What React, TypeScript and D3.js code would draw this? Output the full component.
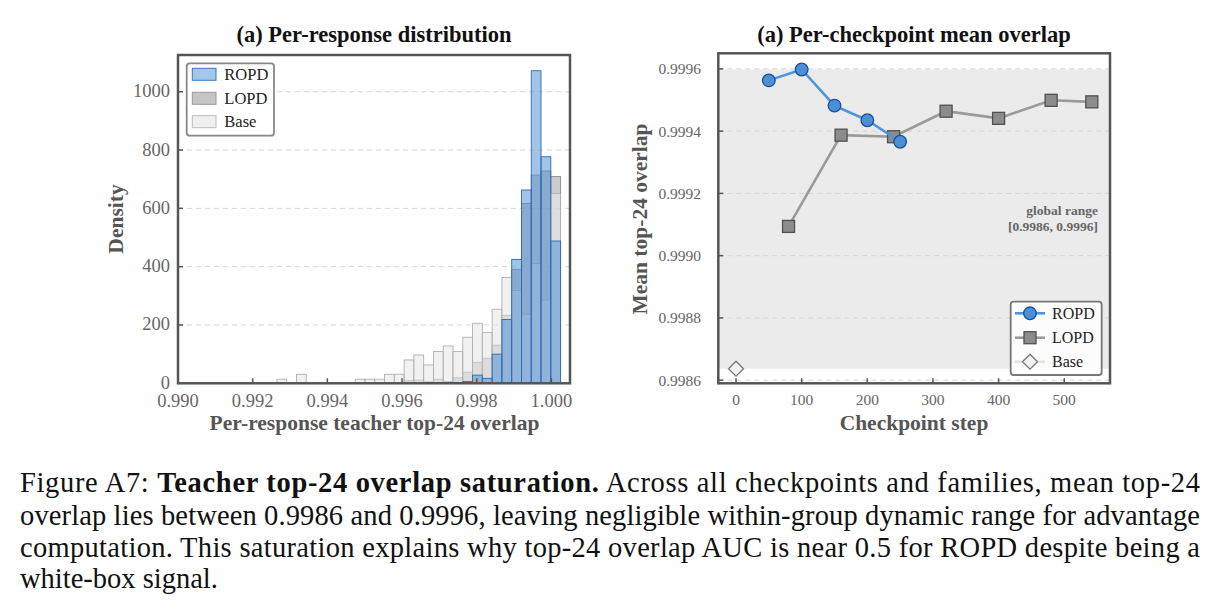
import React from "react";
import * as d3 from "d3";

// ---------- Histogram data (panel a, left) ----------
const binEdges = [
  0.99265, 0.992912, 0.993174, 0.993436, 0.993698, 0.99396, 0.994222, 0.994484,
  0.994746, 0.995008, 0.99527, 0.995532, 0.995794, 0.996056, 0.996318, 0.99658,
  0.996842, 0.997104, 0.997366, 0.997628, 0.99789, 0.998152, 0.998414, 0.998676,
  0.998938, 0.9992, 0.999462, 0.999724, 0.999986, 1.000248,
];
const ropdDensity = [0, 0, 0, 0, 0, 0, 0, 0, 0, 0, 0, 0, 0, 0, 0, 3, 2, 3, 3, 6, 28, 17, 100, 219, 425, 663, 1072, 777, 488];
const lopdDensity = [0, 0, 0, 0, 0, 0, 0, 0, 0, 0, 0, 0, 0, 9, 11, 5, 14, 6, 19, 38, 72, 86, 131, 233, 391, 617, 714, 728, 709];
const baseDensity = [14, 0, 31, 0, 0, 0, 0, 0, 14, 14, 14, 31, 31, 80, 97, 63, 109, 128, 109, 158, 206, 174, 254, 363, 318, 237, 411, 286, 651];
const histXTicks = [0.99, 0.992, 0.994, 0.996, 0.998, 1.0];
const histYTicks = [0, 200, 400, 600, 800, 1000];

// ---------- Checkpoint data (right) ----------
const ropdSteps = [50, 100, 150, 200, 250];
const ropdMean = [0.999563, 0.999598, 0.999482, 0.999435, 0.999366];
const lopdSteps = [80, 160, 240, 320, 400, 480, 542];
const lopdMean = [0.999094, 0.999387, 0.999382, 0.999464, 0.999441, 0.999499, 0.999494];
const baseSteps = [0];
const baseMean = [0.998637];
const ckptXTicks = [0, 100, 200, 300, 400, 500];
const ckptYTicks = [0.9986, 0.9988, 0.999, 0.9992, 0.9994, 0.9996];

const SERIF = "'Liberation Serif', 'Times New Roman', serif";
const FRAME = "#555";
const TICKTXT = "#666";
const LABEL = "#555";

function Histogram() {
  const x = d3.scaleLinear().domain([0.99, 1.0005]).range([178, 570]);
  const y = d3.scaleLinear().domain([0, 1126]).range([383.3, 55]);
  const [x0, x1] = x.range();
  const [y0, y1] = y.range();
  const layers = [
    { name: "LOPD", vals: lopdDensity, fill: "#a8a8a8", op: 0.6, stroke: "#8a8a8a" },
    { name: "Base", vals: baseDensity, fill: "#e8e8e8", op: 0.6, stroke: "#b0b0b0" },
    { name: "ROPD", vals: ropdDensity, fill: "#4a8fd6", op: 0.52, stroke: "#2f69b0" },
  ];
  const legend = [
    { name: "ROPD", fill: "#a3c6eb", stroke: "#3b78c0" },
    { name: "LOPD", fill: "#c5c5c5", stroke: "#999" },
    { name: "Base", fill: "#efefef", stroke: "#bbb" },
  ];
  return (
    <g>
      <text x={374} y={41.5} textAnchor="middle" fontFamily={SERIF} fontWeight="bold" fontSize={22.5} fill="#111">
        (a) Per-response distribution
      </text>
      {histYTicks.slice(1).map((t) => (
        <line key={"g" + t} x1={x0} x2={x1} y1={y(t)} y2={y(t)} stroke="#d6d6d6" strokeWidth={1} strokeDasharray="5,4" />
      ))}
      {layers.map((L) => (
        <g key={L.name}>
          {L.vals.map((v, i) =>
            v > 0 ? (
              <rect
                key={i}
                x={x(binEdges[i])}
                y={y(v)}
                width={x(binEdges[i + 1]) - x(binEdges[i])}
                height={y(0) - y(v)}
                fill={L.fill}
                fillOpacity={L.op}
                stroke={L.stroke}
                strokeWidth={0.9}
              />
            ) : null
          )}
        </g>
      ))}
      {histXTicks.map((t) => (
        <g key={"xt" + t}>
          <line x1={x(t)} x2={x(t)} y1={y0} y2={y0 - 5} stroke={FRAME} strokeWidth={1.5} />
          <text x={x(t)} y={407} textAnchor="middle" fontFamily={SERIF} fontSize={18.5} fill={TICKTXT}>
            {d3.format(".3f")(t)}
          </text>
        </g>
      ))}
      {histYTicks.map((t) => (
        <g key={"yt" + t}>
          <line x1={x0} x2={x0 + 5} y1={y(t)} y2={y(t)} stroke={FRAME} strokeWidth={1.5} />
          <text x={170} y={y(t) + 5.5} textAnchor="end" fontFamily={SERIF} fontSize={18.5} fill={TICKTXT}>
            {t}
          </text>
        </g>
      ))}
      <rect x={x0} y={y1} width={x1 - x0} height={y0 - y1} fill="none" stroke={FRAME} strokeWidth={2.5} />
      <text x={374.5} y={430} textAnchor="middle" fontFamily={SERIF} fontWeight="bold" fontSize={21.5} fill={LABEL}>
        Per-response teacher top-24 overlap
      </text>
      <text
        transform={`translate(123,219) rotate(-90)`}
        textAnchor="middle"
        fontFamily={SERIF}
        fontWeight="bold"
        fontSize={21.5}
        fill={LABEL}
      >
        Density
      </text>
      <rect x={186.7} y={63.3} width={87.3} height={72.4} rx={3} fill="#fff" stroke="#888" strokeWidth={1.8} />
      {legend.map((L, i) => {
        const cy = [74.3, 98.3, 121.7][i];
        return (
          <g key={L.name}>
            <rect x={192.3} y={cy - 6} width={23.7} height={12} fill={L.fill} stroke={L.stroke} strokeWidth={1} />
            <text x={224.3} y={cy + 5.5} fontFamily={SERIF} fontSize={16.5} fill="#222">
              {L.name}
            </text>
          </g>
        );
      })}
    </g>
  );
}

function Checkpoints() {
  const x = d3.scaleLinear().domain([-27, 569.7]).range([718.3, 1110]);
  const y = d3.scaleLinear().domain([0.99859, 0.99965]).range([383.3, 53.3]);
  const [x0, x1] = x.range();
  const [y0, y1] = y.range();
  const allVals = [...ropdMean, ...lopdMean, ...baseMean];
  const gMin = d3.min(allVals) as number;
  const gMax = d3.max(allVals) as number;
  const line = d3.line<number>();
  const ropdPts: [number, number][] = ropdSteps.map((s, i) => [x(s), y(ropdMean[i])]);
  const lopdPts: [number, number][] = lopdSteps.map((s, i) => [x(s), y(lopdMean[i])]);
  const diamond = (cx: number, cy: number, r: number) =>
    `M${cx},${cy - r}L${cx + r},${cy}L${cx},${cy + r}L${cx - r},${cy}Z`;
  return (
    <g>
      <text x={914} y={42} textAnchor="middle" fontFamily={SERIF} fontWeight="bold" fontSize={22.5} fill="#111">
        (a) Per-checkpoint mean overlap
      </text>
      <rect x={x0} y={y(gMax)} width={x1 - x0} height={y(gMin) - y(gMax)} fill="#ebebeb" />
      {ckptYTicks.map((t) => (
        <line key={"g" + t} x1={x0} x2={x1} y1={y(t)} y2={y(t)} stroke="#d4d4d4" strokeWidth={1} strokeDasharray="5,4" />
      ))}
      <text x={1098} y={215} textAnchor="end" fontFamily={SERIF} fontWeight="bold" fontSize={13.5} fill="#666">
        global range
      </text>
      <text x={1098} y={230.5} textAnchor="end" fontFamily={SERIF} fontWeight="bold" fontSize={13.5} fill="#666">
        {`[${d3.format(".4f")(0.9986)}, ${d3.format(".4f")(0.9996)}]`}
      </text>
      <path d={line(lopdPts) as string} fill="none" stroke="#9a9a9a" strokeWidth={2.6} />
      {lopdPts.map(([px, py], i) => (
        <rect key={"l" + i} x={px - 6} y={py - 6} width={12} height={12} fill="#8c8c8c" stroke="#505050" strokeWidth={1.3} />
      ))}
      <path d={line(ropdPts) as string} fill="none" stroke="#4f95dc" strokeWidth={2.6} />
      {ropdPts.map(([px, py], i) => (
        <circle key={"r" + i} cx={px} cy={py} r={6.3} fill="#4a8fd8" stroke="#1d4f8f" strokeWidth={1.3} />
      ))}
      {baseSteps.map((s, i) => (
        <path key={"b" + i} d={diamond(x(s), y(baseMean[i]), 7.5)} fill="#f2f2f2" stroke="#777" strokeWidth={1.3} />
      ))}
      {ckptXTicks.map((t) => (
        <g key={"xt" + t}>
          <line x1={x(t)} x2={x(t)} y1={y0} y2={y0 - 5} stroke={FRAME} strokeWidth={1.5} />
          <text x={x(t)} y={405} textAnchor="middle" fontFamily={SERIF} fontSize={15.5} fill={TICKTXT}>
            {t}
          </text>
        </g>
      ))}
      {ckptYTicks.map((t) => (
        <g key={"yt" + t}>
          <line x1={x0} x2={x0 + 5} y1={y(t)} y2={y(t)} stroke={FRAME} strokeWidth={1.5} />
          <text x={701} y={y(t) + 5.5} textAnchor="end" fontFamily={SERIF} fontSize={15.5} fill={TICKTXT}>
            {d3.format(".4f")(t)}
          </text>
        </g>
      ))}
      <rect x={x0} y={y1} width={x1 - x0} height={y0 - y1} fill="none" stroke={FRAME} strokeWidth={2.5} />
      <text x={914} y={430} textAnchor="middle" fontFamily={SERIF} fontWeight="bold" fontSize={21.5} fill={LABEL}>
        Checkpoint step
      </text>
      <text
        transform={`translate(647,219) rotate(-90)`}
        textAnchor="middle"
        fontFamily={SERIF}
        fontWeight="bold"
        fontSize={21.5}
        fill={LABEL}
      >
        Mean top-24 overlap
      </text>
      <rect x={1010.7} y={301.7} width={91} height={73.3} rx={3} fill="#fff" fillOpacity={0.85} stroke="#777" strokeWidth={1.8} />
      <g>
        <line x1={1015} x2={1045} y1={313.3} y2={313.3} stroke="#4f95dc" strokeWidth={2.6} />
        <circle cx={1030} cy={313.3} r={6.3} fill="#4a8fd8" stroke="#1d4f8f" strokeWidth={1.3} />
        <text x={1052} y={319} fontFamily={SERIF} fontSize={16} fill="#222">ROPD</text>
        <line x1={1015} x2={1045} y1={337.7} y2={337.7} stroke="#9a9a9a" strokeWidth={2.6} />
        <rect x={1024} y={331.7} width={12} height={12} fill="#8c8c8c" stroke="#505050" strokeWidth={1.3} />
        <text x={1052} y={343.4} fontFamily={SERIF} fontSize={16} fill="#222">LOPD</text>
        <line x1={1015} x2={1045} y1={361.7} y2={361.7} stroke="#e2e2e2" strokeWidth={2.6} />
        <path d={diamond(1030, 361.7, 7.5)} fill="#f2f2f2" stroke="#777" strokeWidth={1.3} />
        <text x={1052} y={367.4} fontFamily={SERIF} fontSize={16} fill="#222">Base</text>
      </g>
    </g>
  );
}

function Caption() {
  const fs = 28.5;
  return (
    <g fontFamily={SERIF} fontSize={fs} fill="#111">
      <text x={20} y={491.7} textLength={1180} lengthAdjust="spacing">
        <tspan>Figure A7: </tspan>
        <tspan fontWeight="bold">Teacher top-24 overlap saturation.</tspan>
        <tspan> Across all checkpoints and families, mean top-24</tspan>
      </text>
      <text x={20} y={524.5} textLength={1180} lengthAdjust="spacing">
        overlap lies between 0.9986 and 0.9996, leaving negligible within-group dynamic range for advantage
      </text>
      <text x={20} y={557} textLength={1180} lengthAdjust="spacing">
        computation. This saturation explains why top-24 overlap AUC is near 0.5 for ROPD despite being a
      </text>
      <text x={20} y={588.3}>white-box signal.</text>
    </g>
  );
}

export default function App() {
  return (
    <svg
      width={1221}
      height={613}
      viewBox="0 0 1221 613"
      style={{ position: "absolute", left: 0, top: 0, background: "#fff" }}
    >
      <rect x={0} y={0} width={1221} height={613} fill="#fff" />
      <Histogram />
      <Checkpoints />
      <Caption />
    </svg>
  );
}
